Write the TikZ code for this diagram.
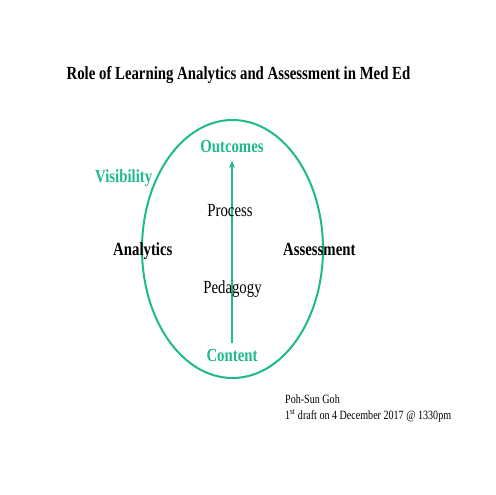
\documentclass[tikz,border=0pt]{standalone}
\usepackage{fontspec}
\setmainfont{Liberation Serif}[FakeStretch=0.8]
\usetikzlibrary{shapes.geometric,arrows.meta}
\definecolor{teal}{RGB}{30,185,140}
\tikzset{
  big/.style={inner sep=0pt,font=\fontsize{18.5}{20}\selectfont},
  bigb/.style={big,font=\fontsize{18.5}{20}\selectfont\bfseries},
  small/.style={inner sep=0pt,font=\fontsize{12.6}{14}\selectfont},
  tealtxt/.style={text=teal}
}
\begin{document}
\begin{tikzpicture}[x=1pt,y=-1pt]
\useasboundingbox (0,0) rectangle (495,495);
\node[bigb,anchor=base] (title) at (238.5,80) {Role of Learning Analytics and Assessment in Med Ed};
\node[draw=teal,line width=2pt,ellipse,minimum width=181pt,minimum height=258pt,inner sep=0pt] (ell) at (232.5,249) {};
\coordinate (abot) at (232,343);
\coordinate (atop) at (232,161);
\draw[teal,line width=1.5pt,-{Stealth[length=7pt,width=6pt]}] (abot) -- (atop);
\node[bigb,tealtxt,anchor=base] (out) at (232,152) {Outcomes};
\node[bigb,tealtxt,anchor=base west] (vis) at (95,182) {Visibility};
\node[big,anchor=base] (proc) at (230,216) {Process};
\node[bigb,anchor=base west] (ana) at (113,255) {Analytics};
\node[bigb,anchor=base west] (ass) at (283,255) {Assessment};
\node[big,anchor=base] (ped) at (232.5,293) {Pedagogy};
\node[bigb,tealtxt,anchor=base] (con) at (232,361) {Content};
\node[small,anchor=base west] (auth) at (285,403) {Poh-Sun Goh};
\node[small,anchor=base west] (draft) at (285,419) {1\textsuperscript{st} draft on 4 December 2017 @ 1330pm};
\end{tikzpicture}
\end{document}
